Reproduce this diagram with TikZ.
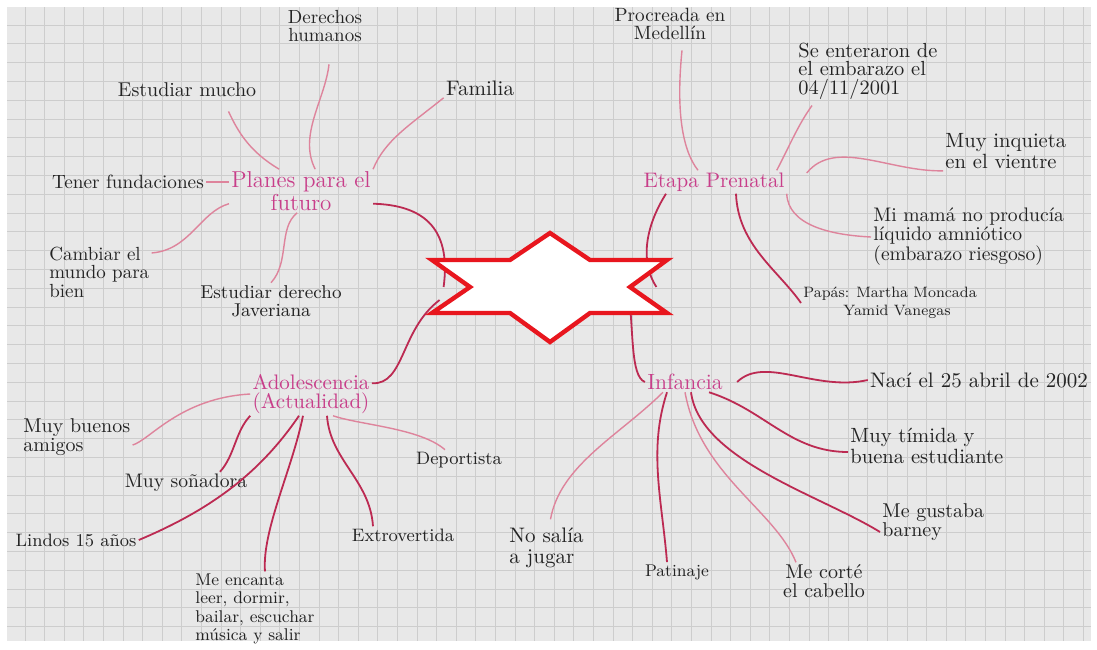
\documentclass[tikz,border=0pt]{standalone}
\usepackage{fontspec}

\definecolor{paper}{RGB}{232,232,232}
\definecolor{gridc}{RGB}{205,205,205}
\definecolor{ink}{RGB}{35,35,35}
\definecolor{topicc}{RGB}{200,62,138}
\definecolor{linkc}{RGB}{188,42,82}
\definecolor{softc}{RGB}{222,132,156}
\definecolor{starred}{RGB}{232,22,30}

\begin{document}
\begin{tikzpicture}[x=0.5pt, y=-0.5pt,
	txt/.style={text=ink, inner sep=1pt},
	topic/.style={text=topicc, inner sep=1pt},
	fs/.style={font=\fontsize{#1}{9.2}\selectfont},
	link/.style={draw=linkc, line width=0.9pt},
	soft/.style={draw=softc, line width=0.7pt}]

\useasboundingbox (0,0) rectangle (1097,649);
\fill[white] (0,0) rectangle (1097,649);
\fill[paper] (7,7) rectangle (1091,641);
\foreach \gx in {25,44.6,...,1091}
	\draw[gridc, line width=0.5pt] (\gx,7) -- (\gx,641);
\foreach \gy in {25,43.8,...,641}
	\draw[gridc, line width=0.5pt] (7,\gy) -- (1091,\gy);

% planes para el futuro
\node[topic, fs=11.5, align=center] (plan) at (301,191) {Planes para el\\futuro};
\node[txt, fs=9.6] (fund) at (128,182) {Tener fundaciones};
\node[txt, fs=10] (mucho) at (187,90) {Estudiar mucho};
\node[txt, fs=9.5, align=center] (ddhh) at (325,26) {Derechos\\humanos};
\node[txt, fs=10.5] (fam) at (480,88) {Familia};
\node[txt, fs=9.5, align=left, anchor=west] (mundo) at (47,272) {Cambiar el\\mundo para\\bien};
\node[txt, fs=9.3, align=center] (javer) at (271,301) {Estudiar derecho\\Javeriana};

% etapa prenatal
\node[topic, fs=10.5] (pren) at (714,182) {Etapa Prenatal};
\node[txt, fs=9.6, align=center] (medel) at (670,24) {Procreada en\\Medellín};
\node[txt, fs=10.2, align=left, anchor=west] (ente) at (796,71) {Se enteraron de\\el embarazo el\\04/11/2001};
\node[txt, fs=10.3, align=left, anchor=west] (inq) at (943,151) {Muy inquieta\\en el vientre};
\node[txt, fs=9.8, align=left, anchor=west] (mama) at (871,237) {Mi mamá no producía\\líquido amniótico\\(embarazo riesgoso)};
\node[txt, fs=7.5, align=left, anchor=west] (papas) at (801,303) {Papás: Martha Moncada\\\hspace*{20pt}Yamid Vanegas};

% infancia
\node[topic, fs=11] (inf) at (685,382) {Infancia};
\node[txt, fs=10.5] (naci) at (979,380) {Nací el 25 abril de 2002};
\node[txt, fs=10.3, align=left, anchor=west] (timida) at (848,446) {Muy tímida y\\buena estudiante};
\node[txt, fs=10, align=left, anchor=west] (barney) at (880,522) {Me gustaba\\barney};
\node[txt, fs=10, align=center] (corte) at (824,581) {Me corté\\el cabello};
\node[txt, fs=8.5] (patin) at (677,572) {Patinaje};
\node[txt, font=\fontsize{10.5}{10.8}\selectfont, align=left, anchor=west] (jugar) at (507,548) {No salía\\a jugar};

% adolescencia
\node[topic, fs=10.5, align=center] (adol) at (311,394) {Adolescencia\\(Actualidad)};
\node[txt, fs=10, align=left, anchor=west] (amigos) at (21,437) {Muy buenos\\amigos};
\node[txt, fs=9.8] (sonad) at (186,483) {Muy soñadora};
\node[txt, fs=9] (quince) at (76,540) {Lindos 15 años};
\node[txt, fs=8.5, align=left, anchor=west] (encanta) at (193,609) {Me encanta\\leer, dormir,\\bailar, escuchar\\música y salir};
\node[txt, fs=9] (extro) at (403,535) {Extrovertida};
\node[txt, fs=9] (depor) at (459,460) {Deportista};

\node[minimum width=118pt, minimum height=54pt, inner sep=0] (core) at (550,287) {};

\draw[soft] (fund.east) -- (fund.east -| plan.west);
\draw[soft] ([xshift=-15pt,yshift=-6pt]mucho.south east) .. controls (238,132) and (250,152) .. (plan.135);
\draw[soft] ([xshift=2pt,yshift=-10pt]ddhh.south) .. controls (325,100) and (298,135) .. (plan.57);
\draw[soft] (fam.south west) .. controls (410,125) and (385,140) .. (plan.north east);
\draw[soft] (plan.190) .. controls (200,212) and (190,250) .. (mundo.20);
\draw[soft] (plan.-100) .. controls (278,228) and (290,262) .. (javer.north);
\draw[link] (plan.-10) .. controls (420,205) and (452,225) .. ([xshift=6pt]core.west);

\draw[soft] ([xshift=6pt,yshift=-4pt]medel.south) .. controls (676,110) and (682,150) .. ([xshift=-8pt]pren.north);
\draw[soft] ([xshift=8pt,yshift=-2pt]ente.south west) .. controls (798,125) and (790,145) .. ([xshift=-5pt]pren.north east);
\draw[soft] ([xshift=10pt,yshift=4.5pt]pren.east) .. controls (835,138) and (890,172) .. (inq.south west);
\draw[soft] (pren.south east) .. controls (788,225) and (830,235) .. (mama.west);
\draw[link] ([xshift=11pt]pren.south) .. controls (738,245) and (778,270) .. (papas.west);
\draw[link] ([xshift=-24pt]pren.south) .. controls (645,227) and (640,262) .. ([xshift=-6pt]core.east);

\draw[link] ([xshift=39pt]core.center) .. controls (634,330) and (630,376) .. (inf.west);
\draw[link] ([xshift=6pt]inf.east) .. controls (765,355) and (815,392) .. (naci.west);
\draw[link] ([xshift=12pt]inf.south) .. controls (765,410) and (790,452) .. ([yshift=-3pt]timida.west);
\draw[link] ([xshift=3pt]inf.south) .. controls (700,460) and (820,495) .. ([yshift=-5pt]barney.west);
\draw[soft] (inf.south) .. controls (700,475) and (775,510) .. ([xshift=-14pt]corte.north);
\draw[link] ([xshift=-9pt]inf.south) .. controls (648,450) and (662,500) .. ([xshift=-5pt]patin.north);
\draw[soft] ([xshift=-11pt]inf.south) .. controls (620,435) and (560,465) .. ([xshift=2pt,yshift=3pt]jugar.north);

\draw[link] (adol.10) .. controls (405,385) and (400,330) .. ([xshift=4pt,yshift=-6.5pt]core.west);
\draw[soft] (adol.west) .. controls (180,398) and (150,440) .. ([yshift=-4pt]amigos.east);
\draw[link] (adol.south west) .. controls (235,432) and (235,455) .. ([xshift=17pt]sonad.north);
\draw[link] ([xshift=-6pt]adol.south) .. controls (262,470) and (215,508) .. (quince.east);
\draw[link] ([xshift=-4pt]adol.south) .. controls (292,470) and (262,530) .. ([xshift=5pt]encanta.north);
\draw[link] ([xshift=8pt]adol.south) .. controls (330,460) and (370,480) .. ([xshift=-15pt]extro.north);
\draw[soft] ([xshift=11pt]adol.south) .. controls (360,425) and (420,428) .. ([xshift=-7pt]depor.north);

\draw[starred, line width=2.2pt, fill=white, line join=miter]
	(550,233) -- (510,260) -- (432,260) -- (470,287) -- (432,313) -- (510,313) -- (550,342)
	-- (590,313) -- (667,313) -- (630,287) -- (667,260) -- (590,260) -- cycle;
\end{tikzpicture}
\end{document}
